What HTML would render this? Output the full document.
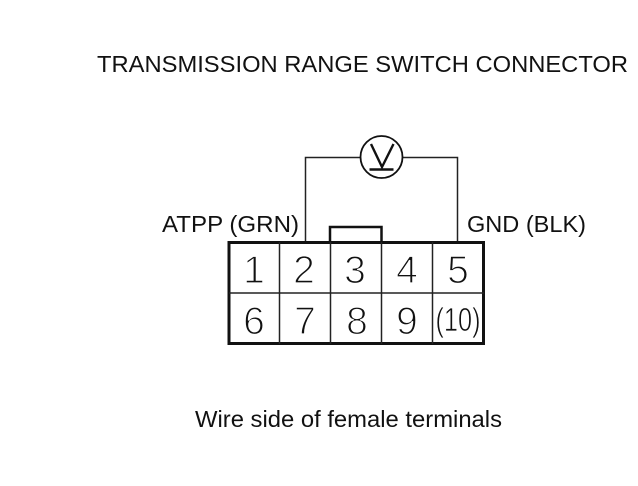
<!DOCTYPE html>
<html>
<head>
<meta charset="utf-8">
<style>
html,body{margin:0;padding:0;background:#fff;width:638px;height:486px;overflow:hidden}
svg{display:block}
text{font-family:"Liberation Sans",sans-serif;fill:#111}
.d{font-size:39px;text-anchor:middle;stroke:#fff;stroke-width:1.3px;paint-order:normal;fill:#111}
.l{font-size:23px}
</style>
</head>
<body>
<svg width="638" height="486" viewBox="0 0 638 486" xmlns="http://www.w3.org/2000/svg">
<text class="l" x="97" y="72" textLength="531" lengthAdjust="spacingAndGlyphs">TRANSMISSION RANGE SWITCH CONNECTOR</text>
<text class="l" x="162" y="232" textLength="137" lengthAdjust="spacingAndGlyphs">ATPP (GRN)</text>
<text class="l" x="467" y="232" textLength="119" lengthAdjust="spacingAndGlyphs">GND (BLK)</text>
<text class="l" x="195" y="427" textLength="307" lengthAdjust="spacingAndGlyphs">Wire side of female terminals</text>

<path d="M305.500 242V157.500H361M402 157.500H457.500V242" fill="none" stroke="#222" stroke-width="1.500"/>
<circle cx="381.500" cy="157" r="21" fill="#fff" stroke="#111" stroke-width="1.800"/>
<path d="M371 144L382 167L393.500 144" fill="none" stroke="#111" stroke-width="2.400"/>
<path d="M369.500 169.500H393.500" fill="none" stroke="#111" stroke-width="2.400"/>

<path d="M330 242V227H381.500V242" fill="#fff" stroke="#111" stroke-width="2.500"/>
<rect x="229" y="242.500" width="254.500" height="101" fill="none" stroke="#111" stroke-width="3"/>
<path d="M229 293H484M279.500 242V344M330.500 242V344M381.500 242V344M432.500 242V344" fill="none" stroke="#222" stroke-width="1.500"/>

<text class="d" x="254" y="283">1</text>
<text class="d" x="304" y="283">2</text>
<text class="d" x="355" y="283">3</text>
<text class="d" x="407" y="283">4</text>
<text class="d" x="458" y="283">5</text>
<text class="d" x="254" y="334">6</text>
<text class="d" x="305" y="334">7</text>
<text class="d" x="357" y="334">8</text>
<text class="d" x="407" y="334">9</text>
<text class="d" x="458" y="331" style="font-size:33px;stroke-width:.7px" textLength="45" lengthAdjust="spacingAndGlyphs">(10)</text>
</svg>
</body>
</html>
